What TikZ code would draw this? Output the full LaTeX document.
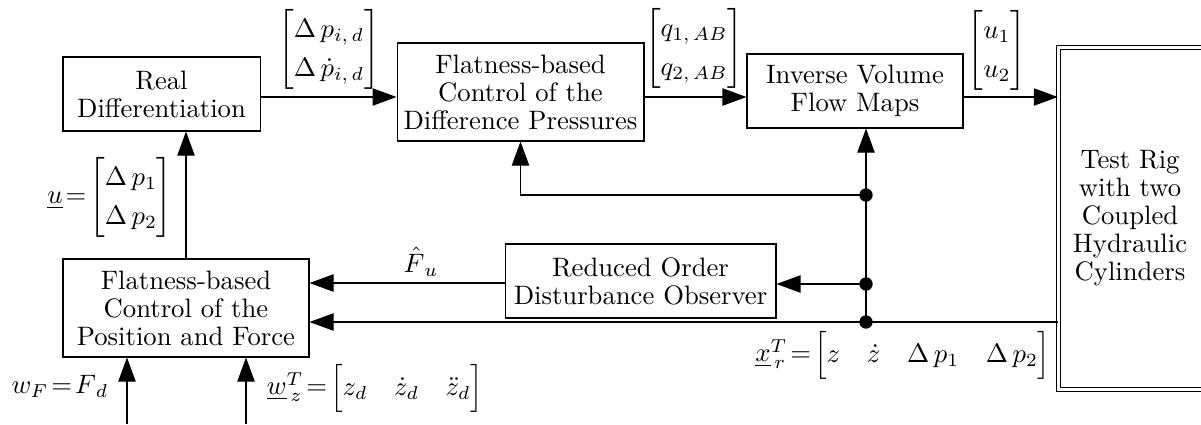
\documentclass[tikz,border=0pt]{standalone}
\usepackage{amsmath,amssymb}
\usetikzlibrary{arrows.meta,calc,positioning}
\tikzset{
  blk/.style={draw,thin,align=center,inner sep=2pt,font=\fontsize{10}{10.5}\selectfont},
  sig/.style={thin,-{Triangle[length=9pt,width=6.5pt]}},
  wire/.style={thin},
  junc/.style={circle,fill=black,inner sep=0pt,minimum size=5pt},
  rigbox/.style={draw,thin,double,double distance=1.1pt},
  lbl/.style={inner sep=1pt,execute at begin node={\renewcommand{\arraystretch}{1.22}}},
}
\begin{document}
\begin{tikzpicture}[x=0.375pt,y=-0.375pt]
    \useasboundingbox (0,0) rectangle (1201,424);
    \clip (0,0) rectangle (1201,424);
    % blocks
    \node[blk,minimum width=73.9pt,minimum height=27.75pt] (diff) at (161.5,94) {Real\\Differentiation};
    \node[blk,minimum width=92.6pt,minimum height=36.75pt] (fbdp) at (520.5,92) {Flatness-based\\Control of the\\Difference Pressures};
    \node[blk,minimum width=81pt,minimum height=27.75pt] (ivfm) at (855,91) {Inverse Volume\\Flow Maps};
    \node[blk,minimum width=101.6pt,minimum height=27.75pt] (obs) at (640.5,281) {Reduced Order\\Disturbance Observer};
    \node[blk,minimum width=92.25pt,minimum height=36.75pt] (fbpf) at (186,308) {Flatness-based\\Control of the\\Position and Force};
    \node[rigbox,minimum width=59pt,minimum height=128.25pt] (rig) at (1137,218.5) {};
    \node[blk,draw=none] (rigtxt) at (1130,218) {Test Rig\\with two\\Coupled\\Hydraulic\\Cylinders};
    % forward path
    \coordinate (row) at (0,97);
    \draw[sig] (diff.east |- row) -- (fbdp.west |- row);
    \draw[sig] (fbdp.east |- row) -- (ivfm.west |- row);
    \draw[sig] (ivfm.east |- row) -- (rig.west |- row);
    % measured states
    \node[junc] (j1) at (866,195) {};
    \node[junc] (j2) at (866,284) {};
    \node[junc] (j3) at (866,322) {};
    \draw[sig] (j3.center) -- (j3 |- ivfm.south);
    \draw[sig] (j1.center) -| (fbdp.south);
    \draw[sig] (j2.center) -- (obs.east |- j2);
    \draw[sig] (rig.west |- j3) -- (fbpf.east |- j3);
    \draw[sig] (obs.west |- 0,283) -- (fbpf.east |- 0,283);
    \draw[sig] (fbpf.north) -- (diff.south -| fbpf.north);
    % references
    \coordinate (wF) at (127,424);
    \coordinate (wz) at (246,424);
    \draw[sig] (wF) -- (fbpf.south -| wF);
    \draw[sig] (wz) -- (fbpf.south -| wz);
    % signal labels
    \node[lbl] (dp) at (329,49) {$\begin{bmatrix}\Delta\,p_{i,\,d}\\ \Delta\,\dot p_{i,\,d}\end{bmatrix}$};
    \node[lbl] (q) at (694,48) {$\begin{bmatrix}q_{1,\,AB}\\ q_{2,\,AB}\end{bmatrix}$};
    \node[lbl] (uv) at (997,50) {$\begin{bmatrix}u_1\\ u_2\end{bmatrix}$};
    \node[lbl] (ulbl) at (110,197) {$\underline{u}\!=\!\begin{bmatrix}\Delta\,p_1\\ \Delta\,p_2\end{bmatrix}$};
    \node[lbl] (Fhat) at (421,262) {$\hat{F}_{\,u}$};
    \node[lbl] (xr) at (903,355) {$\underline{x}_{\,r}^{T}\!=\!\begin{bmatrix}z & \dot z & \Delta\,p_1 & \Delta\,p_2\end{bmatrix}$};
    \node[lbl] (wFl) at (60,386) {$w_{F}\!=\!F_{\,d}$};
    \node[lbl] (wzl) at (375,388) {$\underline{w}_{\,z}^{T}\!=\!\begin{bmatrix}z_d & \dot z_d & \ddot z_d\end{bmatrix}$};
\end{tikzpicture}
\end{document}
